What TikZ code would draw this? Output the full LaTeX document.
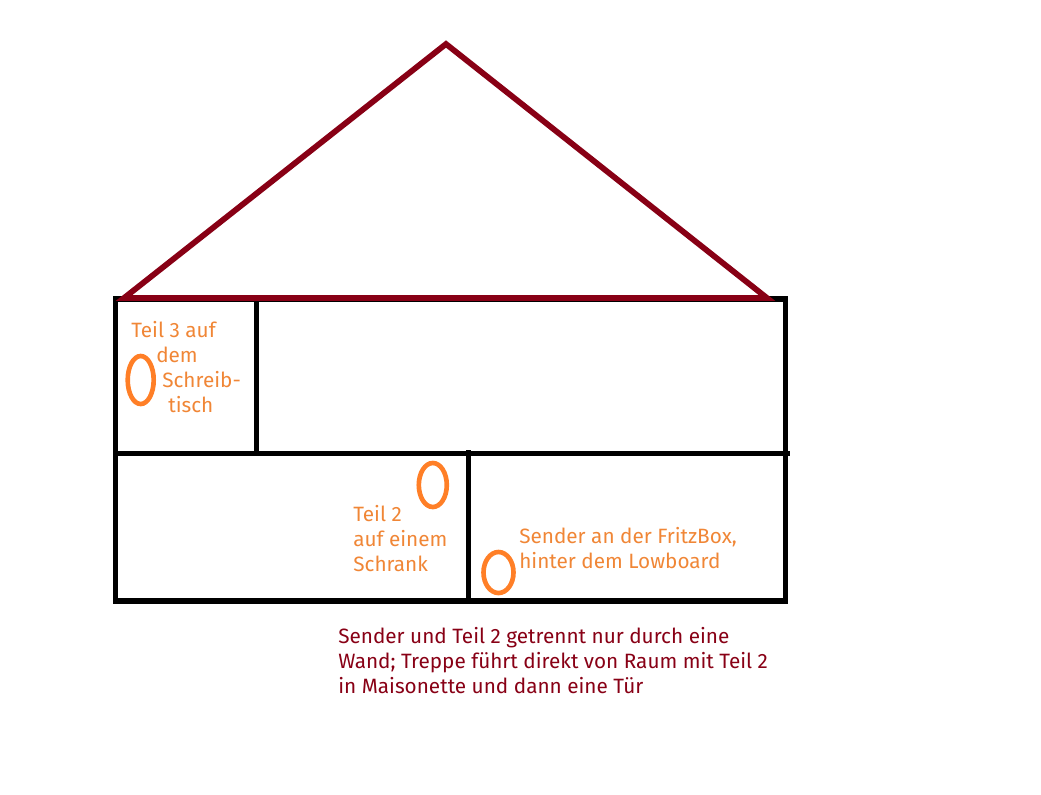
\documentclass[tikz,border=0pt]{standalone}
\usepackage{fontspec}
\setmainfont{Fira Sans}
\definecolor{roofred}{HTML}{880015}
\definecolor{markorange}{HTML}{FF7F27}
\definecolor{textorange}{HTML}{F08636}
\tikzset{%
	wall/.style={
		draw=black,
		line width=3.7pt
	},
	roof/.style={
		draw=roofred,
		line width=4.1pt
	},
	marker/.style={
		draw=markorange,
		line width=3.3pt
	},
	label/.style={
		anchor=base west,
		inner sep=0pt,
		text=textorange,
		font=\fontsize{14.75}{17}\selectfont
	},
	note/.style={
		label,
		text=roofred
	},
}
\begin{document}
\begin{tikzpicture}[x=0.25mm,y=-0.25mm]
	\useasboundingbox (0,0) rectangle (1041,794);
	
	% Draw the walls
	\draw[wall] (115.5,299) rectangle (785.5,601);
	\draw[wall] (256.5,299) -- (256.5,453.5);
	\draw[wall] (115.5,453.5) -- (790,453.5);
	\draw[wall] (468.5,450) -- (468.5,601);
	
	% Draw the roof
	\draw[roof, line join=miter] (124,298) -- (446,44) -- (767,298) -- cycle;
	
	% Draw the markers
	\draw[marker] (140.7,380) ellipse (13 and 24);
	\draw[marker] (432.8,485) ellipse (14 and 22);
	\draw[marker] (498.5,572.5) ellipse (15 and 20.5);
	
	% Labels in the rooms
	\node[label] (teilDreiA) at (131,337) {Teil 3 auf};
	\node[label] (teilDreiB) at (156,362) {dem};
	\node[label] (teilDreiC) at (162,387) {Schreib-};
	\node[label] (teilDreiD) at (168,412) {tisch};
	
	\node[label] (teilZweiA) at (353,521) {Teil 2};
	\node[label] (teilZweiB) at (353,546) {auf einem};
	\node[label] (teilZweiC) at (353,571) {Schrank};
	
	\node[label] (senderA) at (519,543) {Sender an der FritzBox,};
	\node[label] (senderB) at (519,568) {hinter dem Lowboard};
	
	% Note below the house
	\node[note] (noteA) at (338,643) {Sender und Teil 2 getrennt nur durch eine};
	\node[note] (noteB) at (338,668) {Wand; Treppe führt direkt von Raum mit Teil 2};
	\node[note] (noteC) at (338,693) {in Maisonette und dann eine Tür};
\end{tikzpicture}
\end{document}
